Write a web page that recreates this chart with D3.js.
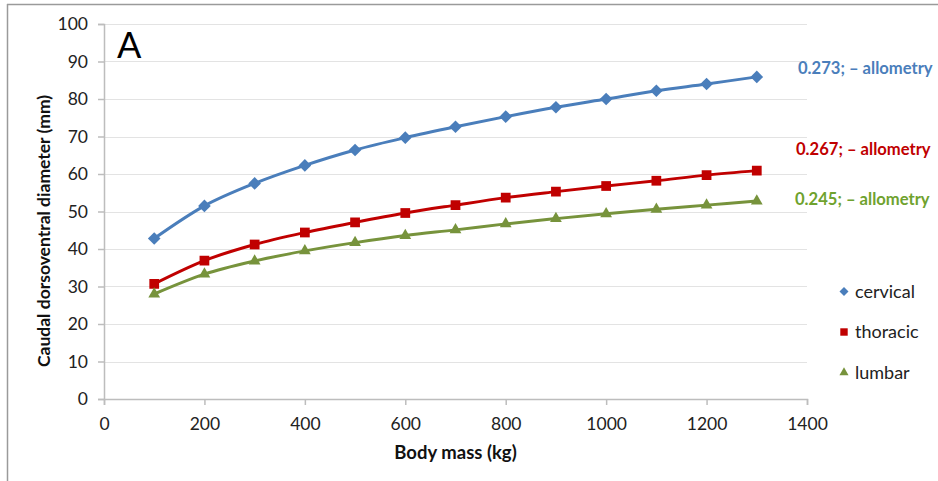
<!DOCTYPE html>
<html>
<head>
<meta charset="utf-8">
<script src="https://cdn.jsdelivr.net/npm/d3@7"></script>
<style>
  html, body { margin: 0; padding: 0; background: #fff; }
  svg { display: block; }
  text { font-family: Lato, "Open Sans", sans-serif; }
</style>
</head>
<body>
<svg id="chart" width="938" height="481"></svg>
<script>
const bodyMass = [100, 200, 300, 400, 500, 600, 700, 800, 900, 1000, 1100, 1200, 1300];
const cervical = [42.8, 51.5, 57.5, 62.3, 66.4, 69.7, 72.6, 75.3, 77.8, 80.0, 82.2, 84.0, 85.9];
const thoracic = [30.7, 36.9, 41.2, 44.4, 47.1, 49.6, 51.7, 53.7, 55.3, 56.8, 58.2, 59.7, 60.9];
const lumbar   = [28.0, 33.3, 36.8, 39.5, 41.7, 43.6, 45.1, 46.7, 48.1, 49.4, 50.6, 51.7, 52.8];
const seriesNames = ["cervical", "thoracic", "lumbar"];
const annotations = ["0.273; – allometry", "0.267; – allometry", "0.245; – allometry"];
const xTicks = [0, 200, 400, 600, 800, 1000, 1200, 1400];
const yTicks = [0, 10, 20, 30, 40, 50, 60, 70, 80, 90, 100];

const svg = d3.select("#chart");
const x = d3.scaleLinear().domain([0, 1400]).range([104, 807]);
const y = d3.scaleLinear().domain([0, 100]).range([399, 24]);

// frame
svg.append("line").attr("x1", 7.5).attr("x2", 7.5).attr("y1", 4).attr("y2", 481).attr("stroke", "#9a9a9a").attr("stroke-width", 1.5);
svg.append("line").attr("x1", 7).attr("x2", 938).attr("y1", 4.5).attr("y2", 4.5).attr("stroke", "#9a9a9a").attr("stroke-width", 1.5);

// gridlines
svg.append("g").selectAll("line").data(yTicks.filter(d => d > 0)).join("line")
  .attr("x1", x(0)).attr("x2", x(1400))
  .attr("y1", d => Math.round(y(d)) + 0.5).attr("y2", d => Math.round(y(d)) + 0.5)
  .attr("stroke", "#e3e3e3").attr("stroke-width", 1.2);

// axes
const yAxis = svg.append("g").attr("transform", `translate(${x(0)},0)`)
  .call(d3.axisLeft(y).tickValues(yTicks).tickSize(6).tickPadding(10).tickFormat(d3.format("d")));
const xAxis = svg.append("g").attr("transform", `translate(0,${y(0)})`)
  .call(d3.axisBottom(x).tickValues(xTicks).tickSize(6).tickPadding(13).tickFormat(d3.format("d")));
[yAxis, xAxis].forEach(g => {
  g.select(".domain").attr("stroke", "#bdbdbd").attr("stroke-width", 1.5);
  g.selectAll(".tick line").attr("stroke", "#bdbdbd").attr("stroke-width", 1.5);
  g.selectAll(".tick text").attr("font-family", "Lato, sans-serif").attr("font-size", 17.5).attr("fill", "#222");
});

// axis titles
svg.append("text").attr("x", x(700)).attr("y", 459).attr("text-anchor", "middle")
  .attr("font-size", 18.5).attr("font-weight", "bold").attr("fill", "#111").text("Body mass (kg)");
svg.append("text").attr("transform", "translate(50,231) rotate(-90)").attr("text-anchor", "middle")
  .attr("font-size", 17.5).attr("font-weight", "bold").attr("fill", "#111").text("Caudal dorsoventral diameter (mm)");

// panel letter
svg.append("text").attr("x", 117).attr("y", 58).attr("font-size", 36).attr("fill", "#000").text("A");

const colors = ["#4a7ebb", "#c00000", "#77933c"];
const data = [cervical, thoracic, lumbar];
const line = d3.line().curve(d3.curveCardinal.tension(0)).x(d => x(d[0])).y(d => y(d[1]));

const symbols = [d3.symbolSquare, d3.symbolSquare, d3.symbolTriangle];
const rotations = [45, 0, 0];
const symSizes = [80, 95, 60];

data.forEach((vals, i) => {
  const pts = bodyMass.map((m, j) => [m, vals[j]]);
  svg.append("path").datum(pts).attr("d", line)
    .attr("fill", "none").attr("stroke", colors[i]).attr("stroke-width", 3).attr("stroke-linejoin", "round");
  svg.append("g").selectAll("path").data(pts).join("path")
    .attr("transform", d => `translate(${x(d[0])},${y(d[1])}) rotate(${rotations[i]})`)
    .attr("d", d3.symbol().type(symbols[i]).size(symSizes[i]))
    .attr("fill", colors[i]);
});

// annotations
const annColors = ["#4a7ebb", "#c00000", "#6fa22e"];
const annX = [798, 796, 795];
const annY = [74, 155, 205];
annotations.forEach((t, i) => {
  svg.append("text").attr("x", annX[i]).attr("y", annY[i]).attr("font-size", 16.6)
    .attr("font-weight", "bold").attr("fill", annColors[i]).text(t);
});

// legend
const legY = [291.5, 332, 372.5];
const legSizes = [40, 55, 36];
seriesNames.forEach((n, i) => {
  svg.append("path").attr("transform", `translate(844,${legY[i]}) rotate(${rotations[i]})`)
    .attr("d", d3.symbol().type(symbols[i]).size(legSizes[i])).attr("fill", colors[i]);
  svg.append("text").attr("x", 855).attr("y", legY[i] + 6).attr("font-size", 18).attr("fill", "#222").text(n);
});
</script>
</body>
</html>
